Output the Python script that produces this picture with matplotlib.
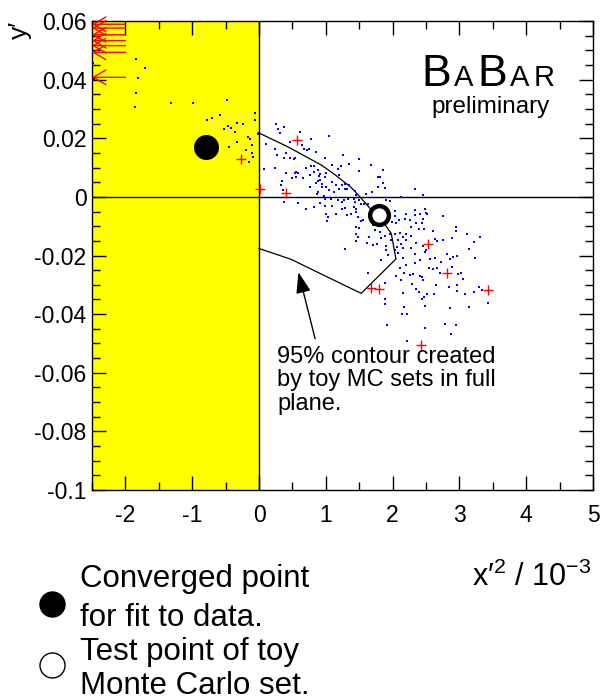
import matplotlib
matplotlib.use("Agg")
import matplotlib.pyplot as plt
from matplotlib.lines import Line2D
import numpy as np

plt.rcParams['font.family'] = ['Liberation Sans', 'DejaVu Sans']
plt.rcParams['mathtext.default'] = 'regular'
plt.rcParams['axes.unicode_minus'] = False

# ---------------- data ----------------
# toy MC fit results (x'^2 in 1e-3, y')
toy_x = [
    # upper-left of physical region
    0.26, 0.29, 0.38, 0.32, 0.62, 0.46, 0.78, 1.05, 0.11, 0.24, 0.27, 0.40, 0.53, 0.54, 0.64,
    0.68, 0.72, 0.75, 0.85, 0.99, 1.25, 1.50, 1.68, 0.07, 0.24, 0.38, 0.47, 0.55, 0.58, 0.54,
    0.49, 0.56, 0.66, 0.70, 0.78, 0.83, 0.83, 0.89, 0.91, 1.00, 0.99, 1.09, 1.18, 1.23, 1.34,
    1.49, 1.78, 1.20, 0.90, 0.40, 0.35, 0.33, 0.36, 0.77, 0.86, 0.88, 0.92, 0.94, 1.00, 1.09,
    1.15, 1.20, 1.24, 1.28, 1.35, 1.28, 1.05, 0.95, 0.88, 0.87, 0.76, 1.43, 1.45, 1.60, 1.69,
    1.78, 0.97, 1.13, 1.32,
    # upper-right
    1.85, 1.81, 1.86, 1.88, 2.34, 2.45, 2.13,
    # below zero, left part
    0.37, 0.58, 0.70, 0.82, 0.92, 0.99, 0.99, 1.09, 1.08, 1.18, 1.24, 1.27, 1.33, 1.42, 1.43,
    1.52, 1.63, 1.24, 1.28, 1.16, 1.01, 1.04, 1.02, 1.32, 1.38, 1.42, 1.45, 1.48, 1.52, 1.55,
    1.45, 1.70, 1.73, 1.45, 1.49, 1.45, 1.48, 1.45, 1.62, 1.65, 1.70, 1.77, 1.29, 1.63, 1.50,
    1.57,
    # below zero, right part
    1.905, 1.955, 2.13, 2.03, 2.03, 1.995, 2.055, 2.195, 2.18, 2.095, 2.255, 2.33, 2.405, 2.48,
    2.495, 2.52, 2.455, 2.445, 2.355, 2.28, 2.395, 2.47, 2.60, 2.76, 2.205, 2.28, 2.105, 1.955,
    1.88, 1.98, 2.08, 2.13, 2.155, 2.03, 2.065, 1.905, 1.905, 1.93, 2.08, 2.205, 2.28, 2.33,
    2.455, 2.495, 2.63, 2.665, 2.75, 2.885, 2.95, 2.95, 3.11, 3.22, 3.31, 3.15, 2.81, 2.90,
    2.86, 2.96, 2.72, 2.63, 2.555, 2.545, 2.60, 2.67, 2.71, 2.895, 2.98, 3.03, 3.06, 3.235,
    2.48, 2.33, 2.205, 2.115, 2.255, 2.305, 2.405, 2.445, 2.165, 2.055, 2.13, 2.295, 2.455,
    2.655, 2.97, 2.405, 2.155, 1.805, 1.83, 1.83, 2.03, 2.155, 2.33, 2.355,
    # lower tail
    1.88, 2.35, 2.40, 2.51, 2.47, 2.44, 2.15, 2.62, 2.84, 2.97, 3.09, 3.22, 3.30, 3.34, 3.43,
    3.15, 2.86, 1.88, 1.89, 2.17, 2.14, 2.22, 2.48, 1.92, 2.48, 2.79, 2.95, 2.87, 2.21,
    # unphysical (x'^2 < 0) region
    -1.84, -1.71, -1.81, -1.84, -1.85, -1.32, -0.99, -0.48, -0.78, -0.70, -0.59, -0.53, -0.47,
    -0.42, -0.36, -0.33, -0.24, -0.065, -0.065, -0.015, -0.17, -0.135, -0.33, -0.10, -0.45,
    -0.19, -0.10, -0.09, -0.15, -2.48, -2.47,
]
toy_y = [
    0.0249, 0.0231, 0.0238, 0.0219, 0.0220, 0.0186, 0.0197, 0.0207, 0.0181, 0.0162, 0.0142, 0.0151, 0.0128, 0.0132, 0.0176,
    0.0164, 0.0159, 0.0162, 0.0154, 0.0132, 0.0144, 0.0130, 0.0109, 0.0096, 0.0099, 0.0134, 0.0134, 0.0084, 0.0083, 0.0083,
    0.0066, 0.0068, 0.0063, 0.0099, 0.0105, 0.0104, 0.0086, 0.0091, 0.0079, 0.0083, 0.0068, 0.0110, 0.0096, 0.0105, 0.0111,
    0.0087, 0.0068, 0.0074, 0.0071, 0.0080, 0.0054, 0.0042, 0.0023, 0.0074, 0.0049, 0.0054, 0.0058, 0.0045, 0.0035, 0.0051,
    0.0040, 0.0026, 0.0041, 0.0026, 0.0040, 0.0045, 0.0023, 0.0032, 0.0018, 0.0009, 0.0032, 0.0020, 0.0006, 0.0009, 0.0015,
    0.0034, 0.0003, 0.0015, 0.0026,
    0.0092, 0.0068, 0.0047, 0.0031, 0.0027, 0.0008, 0.0001,
    -0.0018, -0.0020, -0.0043, -0.0034, -0.0020, -0.0006, -0.0031, -0.0032, -0.0006, -0.0011, -0.0019, -0.0011, -0.0006, -0.0006, -0.0016,
    -0.0025, -0.0025, -0.0040, -0.0037, -0.0057, -0.0057, -0.0070, -0.0083, -0.0062, -0.0057, -0.0036, -0.0043, -0.0070, -0.0082, -0.0079,
    -0.0051, -0.0096, -0.0113, -0.0104, -0.0105, -0.0127, -0.0138, -0.0151, -0.0159, -0.0138, -0.0164, -0.0162, -0.0179, -0.0259, -0.0011,
    -0.0025,
    -0.0009, -0.0014, -0.0002, -0.0048, -0.0066, -0.0085, -0.0088, -0.0057, -0.0074, -0.0079, -0.0079, -0.0062, -0.0057, -0.0040,
    -0.0054, -0.0059, -0.0074, -0.0088, -0.0088, -0.0102, -0.0108, -0.0111, -0.0117, -0.0065, -0.0125, -0.0134, -0.0122, -0.0127,
    -0.0134, -0.0147, -0.0147, -0.0161, -0.0176, -0.0181, -0.0170, -0.0168, -0.0181, -0.0198, -0.0193, -0.0147, -0.0176, -0.0195,
    -0.0168, -0.0181, -0.0145, -0.0150, -0.0147, -0.0142, -0.0102, -0.0117, -0.0125, -0.0153, -0.0136, -0.0179, -0.0195, -0.0204,
    -0.0213, -0.0202, -0.0221, -0.0207, -0.0213, -0.0241, -0.0245, -0.0244, -0.0261, -0.0238, -0.0263, -0.0261, -0.0281, -0.0210,
    -0.0187, -0.0227, -0.0232, -0.0244, -0.0266, -0.0263, -0.0270, -0.0272, -0.0259, -0.0270, -0.0283, -0.0297, -0.0283,
    -0.0300, -0.0300, -0.0215, -0.0210, -0.0119, -0.0142, -0.0215, -0.0125, -0.0136, -0.0045, -0.0159,
    -0.0295, -0.0314, -0.0325, -0.0333, -0.0340, -0.0348, -0.0329, -0.0331, -0.0308, -0.0322, -0.0331, -0.0325, -0.0308, -0.0316, -0.0363,
    -0.0374, -0.0379, -0.0348, -0.0365, -0.0376, -0.0400, -0.0399, -0.0372, -0.0438, -0.0448, -0.0433, -0.0438, -0.0467, -0.0490,
    0.0470, 0.0440, 0.0406, 0.0355, 0.0306, 0.0319, 0.0321, 0.0332, 0.0262, 0.0268, 0.0281, 0.0232, 0.0241,
    0.0234, 0.0221, 0.0253, 0.0249, 0.0285, 0.0262, 0.0213, 0.0204, 0.0196, 0.0188, 0.0177, 0.0170,
    0.0159, 0.0151, 0.0137, 0.0119, 0.0457, 0.0402,
]

# toy fits flagged in red
red_x = [-0.27, 0.015, 0.57, 0.40, 2.53, 2.81, 1.68, 1.79, 3.43, 2.42]
red_y = [0.0128, 0.0028, 0.0193, 0.0012, -0.0162, -0.0261, -0.0311, -0.0314, -0.0317, -0.0505]

# toy fits off the left edge (drawn as arrows)
off_y = [0.0589, 0.0576, 0.0553, 0.0533, 0.0516, 0.0493, 0.0408]

# 95% contour
contour_x = [-0.01, 0.43, 0.93, 1.13, 1.38, 1.50, 1.65, 1.90, 1.98, 2.05, 1.53, 1.30, 0.48, 0.0]
contour_y = [0.0219, 0.0171, 0.0109, 0.0077, 0.0032, 0.0003, -0.0036, -0.0099, -0.0125, -0.0212,
             -0.0329, -0.0304, -0.0213, -0.0176]

fit_point = (-0.80, 0.0171)
test_point = (1.80, -0.0061)

xticks = [-2, -1, 0, 1, 2, 3, 4, 5]
yticks = [0.06, 0.04, 0.02, 0.0, -0.02, -0.04, -0.06, -0.08, -0.1]
ytick_labels = ["0.06", "0.04", "0.02", "0", "-0.02", "-0.04", "-0.06", "-0.08", "-0.1"]

# ---------------- figure ----------------
W, H = 602, 700
fig = plt.figure(figsize=(W / 100, H / 100), dpi=100)
ax = fig.add_axes([92 / W, 1 - 490 / H, (593 - 92) / W, (490 - 21) / H])
ax.set_xlim(-2.5, 5)
ax.set_ylim(-0.1, 0.06)

ax.axvspan(-2.5, 0, color=(1, 1, 0), zorder=0, lw=0)
ax.axhline(0, color='black', lw=1, zorder=1)
ax.axvline(0, color='black', lw=1, zorder=1)

ax.plot(contour_x, contour_y, color='black', lw=0.9, zorder=2)
ax.plot(toy_x, toy_y, ls='none', marker='s', ms=2.1, mew=0, color=(0, 0, 1), zorder=3)
ax.plot(red_x, red_y, ls='none', marker='+', ms=7, mew=1.0, color=(1, 0, 0), zorder=4)

for yv in off_y:
    ax.annotate('', xy=(-2.5, yv), xytext=(-2.0, yv),
                arrowprops=dict(arrowstyle='->,head_length=0.6,head_width=0.35',
                                color='red', lw=1, mutation_scale=15,
                                shrinkA=0, shrinkB=0), zorder=4)

ax.plot([fit_point[0]], [fit_point[1]], marker='o', ms=17, color='black', ls='none', zorder=6)
ax.plot([test_point[0]], [test_point[1]], marker='o', ms=13.5, mfc='white', mec='black',
        mew=3.2, ls='none', zorder=6)

ax.annotate('', xy=(0.59, -0.0257), xytext=(0.84, -0.0484),
            arrowprops=dict(arrowstyle='-|>,head_length=0.8,head_width=0.28',
                            color='black', lw=1, mutation_scale=16,
                            shrinkA=0, shrinkB=0), zorder=5)
ax.text(0.27, -0.0508, "95% contour created\nby toy MC sets in full\nplane.",
        fontsize=17, va='top', ha='left', linespacing=1.1, zorder=5)

# ticks
ax.set_xticks(xticks)
ax.set_xticks(np.arange(-2.5, 5.01, 0.5), minor=True)
ax.set_yticks(yticks)
ax.set_yticklabels(ytick_labels)
ax.set_yticks(np.arange(-0.1, 0.0601, 0.005), minor=True)
ax.tick_params(which='both', direction='in', top=True, right=True, width=1, labelsize=16.5)
ax.tick_params(which='major', length=10)
ax.tick_params(which='minor', length=6)
ax.tick_params(axis='y', pad=4)
ax.tick_params(axis='x', pad=10)
for s in ax.spines.values():
    s.set_linewidth(1)

# axis titles
fig.text(591 / W, 1 - 586 / H, "x\u2032$^{2}$ / 10$^{-3}$", fontsize=22, ha='right', va='baseline')
fig.text(20 / W, 1 - 30 / H, "y\u2032", fontsize=19, rotation=90, ha='center', va='center')

# BaBar logo
renderer = fig.canvas.get_renderer()
xpos = 421
base = 1 - 86 / H
for ch, fs in [("B", 32), ("A", 21), ("B", 32), ("A", 21), ("R", 21)]:
    t = fig.text(xpos / W, base, ch, fontsize=fs, ha='left', va='baseline')
    bb = t.get_window_extent(renderer)
    xpos = bb.x1 + 3.5
fig.text(491 / W, 1 - 113 / H, "preliminary", fontsize=17.5, ha='center', va='baseline')

# legend below
fig.add_artist(Line2D([52 / W], [1 - 604 / H], transform=fig.transFigure, marker='o',
                      ms=18, color='black', ls='none'))
fig.add_artist(Line2D([52 / W], [1 - 665 / H], transform=fig.transFigure, marker='o',
                      ms=18, mfc='white', mec='black', mew=1, ls='none'))
for txt, yb in [("Converged point", 587), ("for fit to data.", 626),
                ("Test point of toy", 660), ("Monte Carlo set.", 694)]:
    fig.text(80 / W, 1 - yb / H, txt, fontsize=22.5, ha='left', va='baseline')

fig.savefig("out.png", dpi=100)
